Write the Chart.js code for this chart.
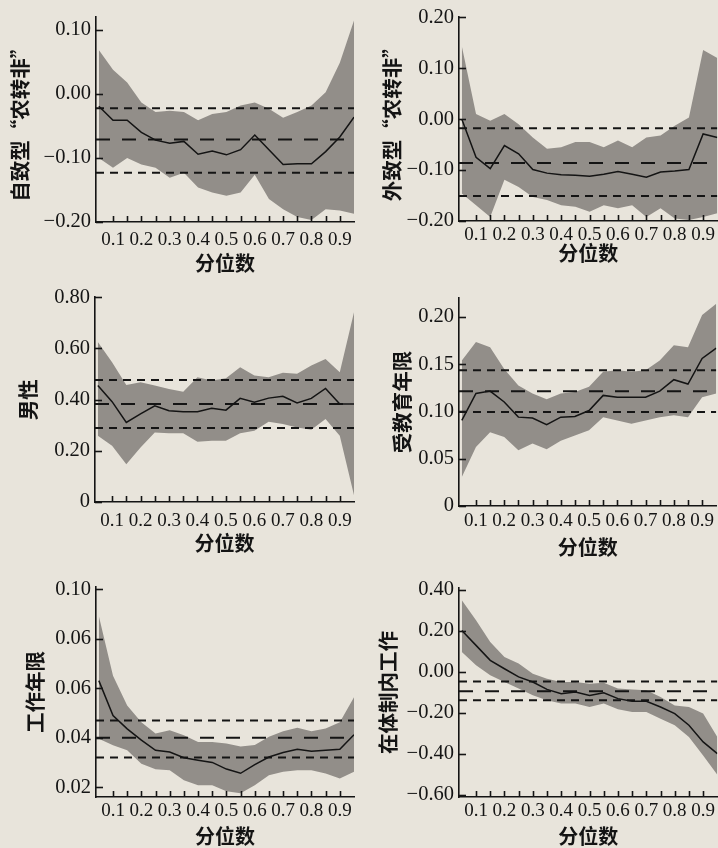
<!DOCTYPE html>
<html><head><meta charset="utf-8">
<script src="https://cdn.jsdelivr.net/npm/chart.js@4.4.1/dist/chart.umd.min.js"></script>
<style>
html,body{margin:0;padding:0;width:718px;height:848px;overflow:hidden;background:#e8e4db;}
.pane{position:absolute;}
</style></head>
<body>
<div class="pane" id="w1" style="left:0;top:0;width:360px;height:280px"><canvas id="c1"></canvas></div>
<div class="pane" id="w2" style="left:360px;top:0;width:358px;height:280px"><canvas id="c2"></canvas></div>
<div class="pane" id="w3" style="left:0;top:280px;width:360px;height:280px"><canvas id="c3"></canvas></div>
<div class="pane" id="w4" style="left:360px;top:280px;width:358px;height:280px"><canvas id="c4"></canvas></div>
<div class="pane" id="w5" style="left:0;top:560px;width:360px;height:288px"><canvas id="c5"></canvas></div>
<div class="pane" id="w6" style="left:360px;top:560px;width:358px;height:288px"><canvas id="c6"></canvas></div>
<script>
// ---------- data ----------
const quantiles = [0.05,0.10,0.15,0.20,0.25,0.30,0.35,0.40,0.45,0.50,0.55,0.60,0.65,0.70,0.75,0.80,0.85,0.90,0.95];
const xTickValues = [0.10,0.15,0.20,0.25,0.30,0.35,0.40,0.45,0.50,0.55,0.60,0.65,0.70,0.75,0.80,0.85,0.90];
const xTitle = '分位数';

// Panel 1: 自致型“农转非”
const p1Title = '自致型“农转非”';
const p1Coef  = [-0.019,-0.041,-0.041,-0.060,-0.072,-0.077,-0.074,-0.094,-0.089,-0.095,-0.087,-0.064,-0.087,-0.110,-0.109,-0.109,-0.090,-0.067,-0.036];
const p1Upper = [0.069,0.038,0.018,-0.013,-0.028,-0.026,-0.028,-0.041,-0.031,-0.028,-0.018,-0.013,-0.023,-0.037,-0.028,-0.018,0.003,0.049,0.115];
const p1Lower = [-0.100,-0.115,-0.100,-0.110,-0.115,-0.131,-0.123,-0.146,-0.154,-0.159,-0.154,-0.126,-0.164,-0.180,-0.192,-0.197,-0.180,-0.182,-0.187];
const p1Ols   = [-0.022,-0.071,-0.123];
const p1YTicks = [-0.20,-0.10,0.00,0.10];
const p1YLabels = ['−0.20','−0.10','0.00','0.10'];

// Panel 2: 外致型“农转非”
const p2Title = '外致型“农转非”';
const p2Coef  = [0.000,-0.075,-0.097,-0.052,-0.068,-0.099,-0.106,-0.109,-0.110,-0.112,-0.108,-0.103,-0.108,-0.114,-0.104,-0.102,-0.099,-0.029,-0.036];
const p2Upper = [0.143,0.010,-0.003,0.010,-0.010,-0.036,-0.058,-0.055,-0.045,-0.045,-0.055,-0.042,-0.055,-0.036,-0.032,-0.013,0.003,0.136,0.120];
const p2Lower = [-0.146,-0.169,-0.192,-0.119,-0.133,-0.153,-0.159,-0.169,-0.172,-0.182,-0.169,-0.175,-0.169,-0.192,-0.175,-0.195,-0.198,-0.192,-0.185];
const p2Ols   = [-0.018,-0.086,-0.151];
const p2YTicks = [-0.20,-0.10,0.00,0.10,0.20];
const p2YLabels = ['−0.20','−0.10','0.00','0.10','0.20'];

// Panel 3: 男性
const p3Title = '男性';
const p3Coef  = [0.455,0.392,0.311,0.344,0.376,0.357,0.353,0.353,0.366,0.359,0.405,0.390,0.406,0.413,0.387,0.405,0.444,0.383,0.383];
const p3Upper = [0.625,0.546,0.457,0.468,0.455,0.442,0.431,0.488,0.475,0.484,0.527,0.494,0.488,0.505,0.501,0.533,0.559,0.507,0.742];
const p3Lower = [0.259,0.220,0.148,0.213,0.272,0.269,0.269,0.235,0.239,0.239,0.269,0.278,0.314,0.305,0.291,0.282,0.324,0.259,0.026];
const p3Ols   = [0.477,0.383,0.289];
const p3YTicks = [0,0.20,0.40,0.60,0.80];
const p3YLabels = ['0','0.20','0.40','0.60','0.80'];

// Panel 4: 受教育年限
const p4Title = '受教育年限';
const p4Coef  = [0.0905,0.119,0.1215,0.110,0.094,0.093,0.086,0.094,0.0947,0.101,0.117,0.115,0.115,0.115,0.1215,0.1336,0.129,0.156,0.167];
const p4Upper = [0.154,0.1735,0.168,0.145,0.1275,0.119,0.113,0.119,0.1205,0.126,0.142,0.1435,0.142,0.1435,0.154,0.170,0.168,0.202,0.214];
const p4Lower = [0.0306,0.0625,0.078,0.073,0.059,0.066,0.060,0.069,0.0745,0.080,0.094,0.0905,0.087,0.0905,0.094,0.096,0.094,0.115,0.119];
const p4Ols   = [0.1435,0.1215,0.0993];
const p4YTicks = [0,0.05,0.10,0.15,0.20];
const p4YLabels = ['0','0.05','0.10','0.15','0.20'];

// Panel 5: 工作年限
const p5Title = '工作年限';
const p5Coef  = [0.0631,0.049,0.0436,0.039,0.0349,0.0342,0.0319,0.0309,0.030,0.0273,0.0256,0.0291,0.0322,0.034,0.0353,0.0345,0.0349,0.0353,0.0412];
const p5Upper = [0.0893,0.0651,0.053,0.0463,0.0417,0.043,0.041,0.0383,0.0383,0.0377,0.0364,0.037,0.0404,0.0426,0.044,0.0426,0.0437,0.0463,0.0564];
const p5Lower = [0.0396,0.0369,0.0349,0.0295,0.0272,0.0268,0.0228,0.0208,0.0208,0.0183,0.0175,0.0208,0.0248,0.0262,0.0268,0.0268,0.0255,0.0235,0.0262];
const p5Ols   = [0.047,0.040,0.032];
const p5YTicks = [0.02,0.04,0.06,0.08,0.10];
const p5YLabels = ['0.02','0.04','0.06','0.06','0.10'];

// Panel 6: 在体制内工作
const p6Title = '在体制内工作';
const p6Coef  = [0.203,0.130,0.057,0.016,-0.024,-0.049,-0.085,-0.106,-0.098,-0.114,-0.101,-0.130,-0.143,-0.143,-0.171,-0.203,-0.260,-0.341,-0.398];
const p6Upper = [0.350,0.252,0.146,0.073,0.041,-0.008,-0.033,-0.049,-0.049,-0.057,-0.052,-0.081,-0.085,-0.089,-0.122,-0.163,-0.171,-0.203,-0.317];
const p6Lower = [0.098,0.033,-0.016,-0.049,-0.081,-0.114,-0.138,-0.154,-0.154,-0.171,-0.154,-0.182,-0.195,-0.195,-0.228,-0.260,-0.317,-0.407,-0.501];
const p6Ols   = [-0.046,-0.094,-0.138];
const p6YTicks = [-0.60,-0.40,-0.20,0.00,0.20,0.40];
const p6YLabels = ['−0.60','−0.40','−0.20','0.00','0.20','0.40'];

// ---------- styling / layout ----------
const INK = '#141414';
const BAND = '#928e89';
const SERIF = "'Liberation Serif','DejaVu Serif',serif";
const CJK = "'Noto Sans CJK SC','Noto Sans',sans-serif";

const inwardTicks = {
  id: 'inwardTicks',
  afterDatasetsDraw(chart) {
    const ctx = chart.ctx, xs = chart.scales.x, ys = chart.scales.y;
    ctx.save();
    ctx.strokeStyle = INK; ctx.lineWidth = 1.6;
    xs.ticks.forEach(t => {
      const px = Math.round(xs.getPixelForValue(t.value)) + 0.5;
      ctx.beginPath(); ctx.moveTo(px, ys.bottom); ctx.lineTo(px, ys.bottom - 6); ctx.stroke();
    });
    ys.ticks.forEach(t => {
      const py = Math.round(ys.getPixelForValue(t.value)) + 0.5;
      ctx.beginPath(); ctx.moveTo(xs.left, py); ctx.lineTo(xs.left + 7, py); ctx.stroke();
    });
    ctx.restore();
  }
};

function pts(arr) { return quantiles.map((q, i) => ({x: q, y: arr[i]})); }
function flat(v, xmin, xmax) { return [{x: xmin, y: v}, {x: xmax, y: v}]; }

function makePanel(id, cfg) {
  const xmin = 0.04, xmax = 0.95;
  const datasets = [
    {data: pts(cfg.upper), borderWidth: 0, pointRadius: 0, fill: '+1', backgroundColor: BAND, order: 5},
    {data: pts(cfg.lower), borderWidth: 0, pointRadius: 0, fill: false, order: 5},
    {data: flat(cfg.ols[0], xmin, xmax), borderColor: INK, borderWidth: 2, borderDash: [8, 6], pointRadius: 0, order: 2},
    {data: flat(cfg.ols[1], xmin, xmax), borderColor: INK, borderWidth: 2, borderDash: [14, 12], pointRadius: 0, order: 2},
    {data: flat(cfg.ols[2], xmin, xmax), borderColor: INK, borderWidth: 2, borderDash: [8, 6], pointRadius: 0, order: 2},
    {data: pts(cfg.coef), borderColor: INK, borderWidth: 1.5, pointRadius: 0, fill: false, order: 1}
  ];
  new Chart(document.getElementById(id), {
    type: 'line',
    data: {datasets},
    plugins: [inwardTicks],
    options: {
      responsive: true, maintainAspectRatio: false, animation: false,
      layout: {padding: cfg.pad},
      plugins: {legend: {display: false}, tooltip: {enabled: false}},
      elements: {line: {tension: 0}},
      scales: {
        x: {
          type: 'linear', min: xmin, max: xmax,
          afterBuildTicks: s => { s.ticks = xTickValues.map(v => ({value: v})); },
          afterFit: s => { s.height = cfg.xh; },
          grid: {display: false, drawTicks: false},
          border: {display: true, color: INK, width: 1.6},
          ticks: {
            autoSkip: false, maxRotation: 0, padding: cfg.xlp, color: INK,
            font: {family: SERIF, size: 19},
            callback: v => (Math.round(v * 100) % 10 === 0 ? (Math.round(v * 10) / 10).toFixed(1) : '')
          },
          title: {display: true, text: xTitle, color: INK, font: {family: CJK, size: 20, weight: 'bold'}, padding: {top: 0, bottom: cfg.xtp}}
        },
        y: {
          type: 'linear', min: cfg.ymin, max: cfg.ymax,
          afterBuildTicks: s => { s.ticks = cfg.yticks.map(v => ({value: v})); },
          afterFit: s => { s.width = cfg.yw; },
          grid: {display: false, drawTicks: false},
          border: {display: true, color: INK, width: 1.6},
          ticks: {
            autoSkip: false, padding: 5, color: INK,
            font: {family: SERIF, size: 20.5},
            callback: (v, i) => cfg.ylabels[i]
          },
          title: {display: true, text: cfg.title, color: INK, font: {family: CJK, size: 20.5, weight: 'bold'}, padding: {top: cfg.ytp, bottom: 0}}
        }
      }
    }
  });
}

makePanel('c1', {title: p1Title, coef: p1Coef, upper: p1Upper, lower: p1Lower, ols: p1Ols, yticks: p1YTicks, ylabels: p1YLabels,
  ymin: -0.20, ymax: 0.12, pad: {left: 0, right: 6, top: 14, bottom: 0}, yw: 96, xh: 58, ytp: 8, xtp: 5, xlp: 7});
makePanel('c2', {title: p2Title, coef: p2Coef, upper: p2Upper, lower: p2Lower, ols: p2Ols, yticks: p2YTicks, ylabels: p2YLabels,
  ymin: -0.20, ymax: 0.20, pad: {left: 0, right: 0, top: 15, bottom: 0}, yw: 99, xh: 59, ytp: 20, xtp: 15, xlp: 3});
makePanel('c3', {title: p3Title, coef: p3Coef, upper: p3Upper, lower: p3Lower, ols: p3Ols, yticks: p3YTicks, ylabels: p3YLabels,
  ymin: 0, ymax: 0.80, pad: {left: 0, right: 6, top: 17, bottom: 0}, yw: 95, xh: 58, ytp: 16, xtp: 5, xlp: 8});
makePanel('c4', {title: p4Title, coef: p4Coef, upper: p4Upper, lower: p4Lower, ols: p4Ols, yticks: p4YTicks, ylabels: p4YLabels,
  ymin: 0, ymax: 0.22, pad: {left: 0, right: 0, top: 18, bottom: 0}, yw: 99, xh: 54, ytp: 30, xtp: 1, xlp: 4});
makePanel('c5', {title: p5Title, coef: p5Coef, upper: p5Upper, lower: p5Lower, ols: p5Ols, yticks: p5YTicks, ylabels: p5YLabels,
  ymin: 0.016, ymax: 0.101, pad: {left: 0, right: 6, top: 27, bottom: 0}, yw: 96, xh: 51, ytp: 23, xtp: 0, xlp: 3});
makePanel('c6', {title: p6Title, coef: p6Coef, upper: p6Upper, lower: p6Lower, ols: p6Ols, yticks: p6YTicks, ylabels: p6YLabels,
  ymin: -0.61, ymax: 0.41, pad: {left: 0, right: 0, top: 28, bottom: 0}, yw: 99, xh: 51, ytp: 16, xtp: 0, xlp: 3});
</script>
</body></html>
